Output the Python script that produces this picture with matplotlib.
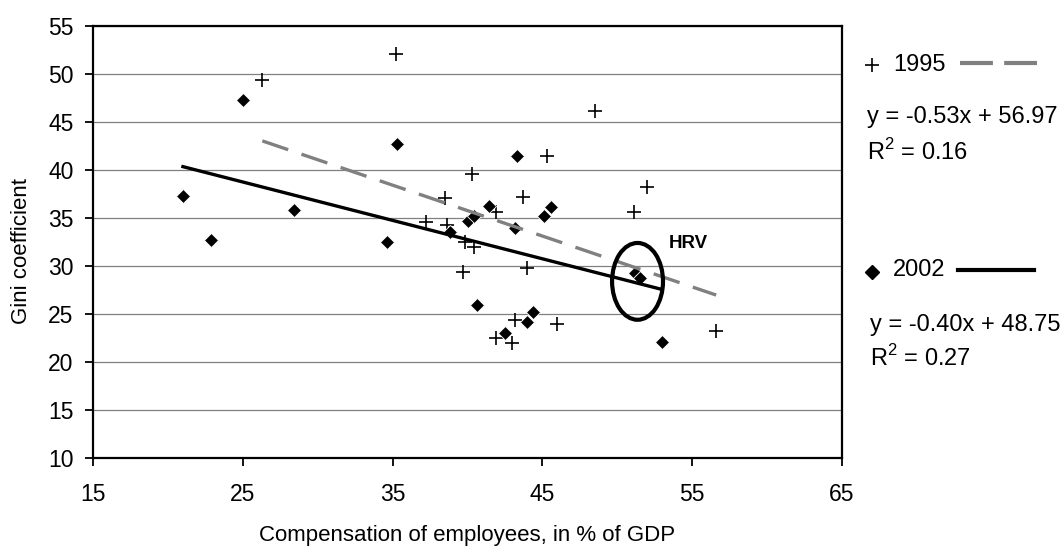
import matplotlib
matplotlib.use('Agg')
import matplotlib.pyplot as plt
from matplotlib.lines import Line2D
from matplotlib.patches import Ellipse
import numpy as np

plt.rcParams['font.family'] = ['Liberation Sans', 'DejaVu Sans']
plt.rcParams['mathtext.fontset'] = 'custom'
plt.rcParams['mathtext.rm'] = 'Liberation Sans'

# ── data ──
comp_1995 = [26.3, 35.2, 48.5, 45.3, 40.3, 52.0, 43.7, 38.5, 41.9, 51.1, 37.2,
             38.6, 39.8, 40.4, 39.7, 44.0, 43.2, 46.0, 41.9, 43.0, 56.6]
gini_1995 = [49.4, 52.1, 46.1, 41.5, 39.6, 38.2, 37.2, 37.1, 35.6, 35.6, 34.6,
             34.3, 32.5, 32.0, 29.4, 29.8, 24.4, 24.0, 22.5, 22.0, 23.2]
comp_2002 = [21.0, 22.9, 25.0, 28.4, 34.6, 35.3, 43.3, 41.4, 45.6, 45.1, 40.0,
             40.4, 38.8, 43.2, 51.2, 51.5, 40.6, 44.4, 44.0, 42.5, 53.0]
gini_2002 = [37.3, 32.7, 47.3, 35.8, 32.5, 42.7, 41.5, 36.3, 36.1, 35.2, 34.7,
             35.2, 33.5, 34.0, 29.3, 28.7, 25.9, 25.2, 24.2, 23.0, 22.1]
fit_1995 = (-0.53, 56.97, 0.16)
fit_2002 = (-0.40, 48.75, 0.27)
x_ticks = [15, 25, 35, 45, 55, 65]
y_ticks = [10, 15, 20, 25, 30, 35, 40, 45, 50, 55]

GREY = '#808080'
FS = 16.5      # tick labels
FS_LEG = 17    # legend / equations
FS_LAB = 16    # axis titles

fig = plt.figure(figsize=(10.61, 5.51), dpi=100)
ax = fig.add_axes([0.0877, 0.1688, 0.7059, 0.784])

ax.plot(comp_1995, gini_1995, linestyle='none', marker='+', ms=10, mew=1.2,
        color='black', zorder=2)
ax.plot(comp_2002, gini_2002, linestyle='none', marker='D', ms=6.8,
        mfc='black', mec='white', mew=0.6, zorder=2)

# trend lines over each series' x range
x95 = np.array([min(comp_1995), max(comp_1995)])
x02 = np.array([min(comp_2002), max(comp_2002)])
ax.plot(x95, fit_1995[0] * x95 + fit_1995[1], color=GREY, lw=2.4,
        linestyle=(0, (8.2, 4.2)), zorder=3)
ax.plot(x02, fit_2002[0] * x02 + fit_2002[1], color='black', lw=2.4, zorder=3)

# HRV highlight
ax.add_patch(Ellipse((51.35, 28.4), 3.4, 8.0, fill=False, ec='black', lw=3, zorder=4))
ax.text(53.45, 32.35, 'HRV', fontsize=13.5, fontweight='bold', ha='left', va='center')

ax.set_xlim(15, 65); ax.set_ylim(10, 55)
ax.set_xticks(x_ticks); ax.set_yticks(y_ticks)
ax.tick_params(direction='out', length=6, width=1.3, labelsize=FS)
ax.tick_params(axis='x', pad=12)
ax.tick_params(axis='y', pad=8)
ax.grid(axis='y', color=GREY, lw=0.9)
ax.set_axisbelow(True)
for s in ax.spines.values():
    s.set_linewidth(1.6); s.set_color('black')

ax.set_xlabel('Compensation of employees, in % of GDP', fontsize=FS_LAB)
ax.xaxis.set_label_coords(0.5, -0.155)
ax.set_ylabel('Gini coefficient', fontsize=FS_LAB)
ax.yaxis.set_label_coords(-0.082, 0.48)

# legend drawn by hand on the right
tf = fig.transFigure
fig.add_artist(Line2D([0.8216], [0.882], marker='+', ms=10, mew=1.2,
                      color='black', transform=tf))
fig.text(0.8417, 0.882, '1995', fontsize=FS_LEG, ha='left', va='center')
fig.add_artist(Line2D([0.9048, 0.9774], [0.8848, 0.8848], color=GREY, lw=3,
                      linestyle=(0, (7.9, 2.7)), transform=tf))
fig.text(0.8169, 0.7882, f'y = {fit_1995[0]:.2f}x + {fit_1995[1]:.2f}',
         fontsize=FS_LEG, ha='left', va='center')
fig.text(0.8169, 0.7247, f'R$^2$ = {fit_1995[2]:.2f}', fontsize=FS_LEG,
         ha='left', va='center')

fig.add_artist(Line2D([0.8216], [0.5069], marker='D', ms=6.8, color='black',
                      transform=tf))
fig.text(0.8417, 0.51, '2002', fontsize=FS_LEG, ha='left', va='center')
fig.add_artist(Line2D([0.903, 0.9746], [0.51, 0.51], color='black', lw=3,
                      transform=tf))
fig.text(0.82, 0.41, f'y = {fit_2002[0]:.2f}x + {fit_2002[1]:.2f}',
         fontsize=FS_LEG, ha='left', va='center')
fig.text(0.82, 0.3497, f'R$^2$ = {fit_2002[2]:.2f}', fontsize=FS_LEG,
         ha='left', va='center')

fig.savefig('out.png', dpi=100, facecolor='white')
